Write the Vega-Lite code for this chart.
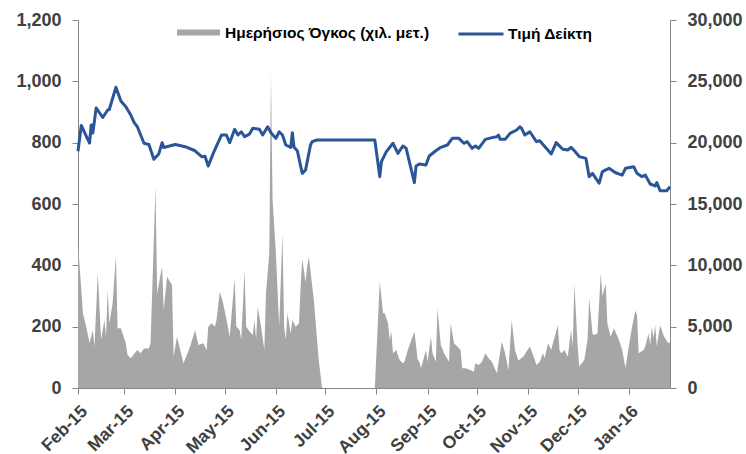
{
  "$schema": "https://vega.github.io/schema/vega-lite/v6.json",
  "width": 592,
  "height": 368,
  "autosize": {"type": "none"},
  "padding": {"left": 78, "top": 20, "right": 76, "bottom": 66},
  "background": "white",
  "config": {
    "view": {"stroke": null},
    "font": "Liberation Sans",
    "axis": {
      "domainColor": "#868686",
      "tickColor": "#868686",
      "labelColor": "#404040",
      "labelFont": "Liberation Sans",
      "labelFontWeight": "bold",
      "labelFontSize": 18,
      "grid": false,
      "title": null,
      "tickSize": 6
    },
    "legend": {
      "labelFont": "Liberation Sans",
      "labelFontWeight": "bold",
      "labelFontSize": 15.5,
      "labelColor": "#000000",
      "labelLimit": 400,
      "padding": 0
    }
  },
  "datasets": {
    "vol": [
      {"date": "2015-02-01T00:00:00", "v": 472},
      {"date": "2015-02-04T00:00:00", "v": 244},
      {"date": "2015-02-06T00:00:00", "v": 200},
      {"date": "2015-02-08T00:00:00", "v": 147},
      {"date": "2015-02-10T00:00:00", "v": 189},
      {"date": "2015-02-11T00:00:00", "v": 135},
      {"date": "2015-02-13T00:00:00", "v": 374},
      {"date": "2015-02-15T00:00:00", "v": 157},
      {"date": "2015-02-17T00:00:00", "v": 222},
      {"date": "2015-02-18T00:00:00", "v": 167},
      {"date": "2015-02-19T00:00:00", "v": 320},
      {"date": "2015-02-20T00:00:00", "v": 211},
      {"date": "2015-02-22T00:00:00", "v": 276},
      {"date": "2015-02-24T00:00:00", "v": 430},
      {"date": "2015-02-25T00:00:00", "v": 195},
      {"date": "2015-02-27T00:00:00", "v": 195},
      {"date": "2015-03-02T00:00:00", "v": 146},
      {"date": "2015-03-03T00:00:00", "v": 108},
      {"date": "2015-03-05T00:00:00", "v": 97},
      {"date": "2015-03-09T00:00:00", "v": 124},
      {"date": "2015-03-11T00:00:00", "v": 113},
      {"date": "2015-03-13T00:00:00", "v": 129},
      {"date": "2015-03-16T00:00:00", "v": 129},
      {"date": "2015-03-17T00:00:00", "v": 146},
      {"date": "2015-03-20T00:00:00", "v": 656},
      {"date": "2015-03-21T00:00:00", "v": 309},
      {"date": "2015-03-24T00:00:00", "v": 396},
      {"date": "2015-03-25T00:00:00", "v": 254},
      {"date": "2015-03-27T00:00:00", "v": 363},
      {"date": "2015-03-30T00:00:00", "v": 336},
      {"date": "2015-03-31T00:00:00", "v": 102},
      {"date": "2015-04-02T00:00:00", "v": 167},
      {"date": "2015-04-04T00:00:00", "v": 124},
      {"date": "2015-04-06T00:00:00", "v": 81},
      {"date": "2015-04-10T00:00:00", "v": 135},
      {"date": "2015-04-13T00:00:00", "v": 189},
      {"date": "2015-04-15T00:00:00", "v": 140},
      {"date": "2015-04-18T00:00:00", "v": 146},
      {"date": "2015-04-20T00:00:00", "v": 124},
      {"date": "2015-04-21T00:00:00", "v": 200},
      {"date": "2015-04-23T00:00:00", "v": 211},
      {"date": "2015-04-25T00:00:00", "v": 200},
      {"date": "2015-04-26T00:00:00", "v": 222},
      {"date": "2015-04-28T00:00:00", "v": 314},
      {"date": "2015-04-30T00:00:00", "v": 276},
      {"date": "2015-05-02T00:00:00", "v": 225},
      {"date": "2015-05-04T00:00:00", "v": 167},
      {"date": "2015-05-07T00:00:00", "v": 358},
      {"date": "2015-05-08T00:00:00", "v": 200},
      {"date": "2015-05-10T00:00:00", "v": 189},
      {"date": "2015-05-11T00:00:00", "v": 157},
      {"date": "2015-05-13T00:00:00", "v": 385},
      {"date": "2015-05-14T00:00:00", "v": 200},
      {"date": "2015-05-16T00:00:00", "v": 184},
      {"date": "2015-05-18T00:00:00", "v": 173},
      {"date": "2015-05-19T00:00:00", "v": 222},
      {"date": "2015-05-20T00:00:00", "v": 157},
      {"date": "2015-05-21T00:00:00", "v": 265},
      {"date": "2015-05-23T00:00:00", "v": 200},
      {"date": "2015-05-25T00:00:00", "v": 124},
      {"date": "2015-05-26T00:00:00", "v": 309},
      {"date": "2015-05-28T00:00:00", "v": 439},
      {"date": "2015-05-29T00:00:00", "v": 1026},
      {"date": "2015-05-30T00:00:00", "v": 613},
      {"date": "2015-06-01T00:00:00", "v": 439},
      {"date": "2015-06-02T00:00:00", "v": 320},
      {"date": "2015-06-03T00:00:00", "v": 200},
      {"date": "2015-06-05T00:00:00", "v": 504},
      {"date": "2015-06-06T00:00:00", "v": 200},
      {"date": "2015-06-07T00:00:00", "v": 157},
      {"date": "2015-06-08T00:00:00", "v": 244},
      {"date": "2015-06-10T00:00:00", "v": 178},
      {"date": "2015-06-11T00:00:00", "v": 222},
      {"date": "2015-06-13T00:00:00", "v": 200},
      {"date": "2015-06-15T00:00:00", "v": 211},
      {"date": "2015-06-16T00:00:00", "v": 330},
      {"date": "2015-06-17T00:00:00", "v": 420},
      {"date": "2015-06-19T00:00:00", "v": 345},
      {"date": "2015-06-20T00:00:00", "v": 396},
      {"date": "2015-06-21T00:00:00", "v": 428},
      {"date": "2015-06-24T00:00:00", "v": 287},
      {"date": "2015-06-27T00:00:00", "v": 91},
      {"date": "2015-06-29T00:00:00", "v": 0},
      {"date": "2015-07-31T00:00:00", "v": 0},
      {"date": "2015-08-03T00:00:00", "v": 347},
      {"date": "2015-08-05T00:00:00", "v": 244},
      {"date": "2015-08-06T00:00:00", "v": 244},
      {"date": "2015-08-08T00:00:00", "v": 211},
      {"date": "2015-08-09T00:00:00", "v": 157},
      {"date": "2015-08-10T00:00:00", "v": 184},
      {"date": "2015-08-11T00:00:00", "v": 113},
      {"date": "2015-08-13T00:00:00", "v": 124},
      {"date": "2015-08-15T00:00:00", "v": 91},
      {"date": "2015-08-17T00:00:00", "v": 81},
      {"date": "2015-08-18T00:00:00", "v": 86},
      {"date": "2015-08-20T00:00:00", "v": 124},
      {"date": "2015-08-24T00:00:00", "v": 184},
      {"date": "2015-08-26T00:00:00", "v": 91},
      {"date": "2015-08-27T00:00:00", "v": 86},
      {"date": "2015-08-28T00:00:00", "v": 64},
      {"date": "2015-08-31T00:00:00", "v": 124},
      {"date": "2015-09-01T00:00:00", "v": 86},
      {"date": "2015-09-03T00:00:00", "v": 167},
      {"date": "2015-09-04T00:00:00", "v": 113},
      {"date": "2015-09-06T00:00:00", "v": 86},
      {"date": "2015-09-07T00:00:00", "v": 260},
      {"date": "2015-09-09T00:00:00", "v": 140},
      {"date": "2015-09-11T00:00:00", "v": 113},
      {"date": "2015-09-14T00:00:00", "v": 86},
      {"date": "2015-09-15T00:00:00", "v": 211},
      {"date": "2015-09-17T00:00:00", "v": 146},
      {"date": "2015-09-19T00:00:00", "v": 135},
      {"date": "2015-09-21T00:00:00", "v": 124},
      {"date": "2015-09-22T00:00:00", "v": 64},
      {"date": "2015-09-24T00:00:00", "v": 64},
      {"date": "2015-09-27T00:00:00", "v": 59},
      {"date": "2015-09-29T00:00:00", "v": 53},
      {"date": "2015-09-30T00:00:00", "v": 81},
      {"date": "2015-10-02T00:00:00", "v": 75},
      {"date": "2015-10-04T00:00:00", "v": 86},
      {"date": "2015-10-06T00:00:00", "v": 113},
      {"date": "2015-10-08T00:00:00", "v": 97},
      {"date": "2015-10-10T00:00:00", "v": 86},
      {"date": "2015-10-13T00:00:00", "v": 48},
      {"date": "2015-10-16T00:00:00", "v": 151},
      {"date": "2015-10-18T00:00:00", "v": 113},
      {"date": "2015-10-20T00:00:00", "v": 59},
      {"date": "2015-10-22T00:00:00", "v": 222},
      {"date": "2015-10-24T00:00:00", "v": 124},
      {"date": "2015-10-26T00:00:00", "v": 90},
      {"date": "2015-10-29T00:00:00", "v": 102},
      {"date": "2015-11-02T00:00:00", "v": 135},
      {"date": "2015-11-04T00:00:00", "v": 108},
      {"date": "2015-11-06T00:00:00", "v": 75},
      {"date": "2015-11-08T00:00:00", "v": 86},
      {"date": "2015-11-10T00:00:00", "v": 113},
      {"date": "2015-11-11T00:00:00", "v": 97},
      {"date": "2015-11-13T00:00:00", "v": 146},
      {"date": "2015-11-15T00:00:00", "v": 124},
      {"date": "2015-11-16T00:00:00", "v": 146},
      {"date": "2015-11-19T00:00:00", "v": 205},
      {"date": "2015-11-20T00:00:00", "v": 124},
      {"date": "2015-11-21T00:00:00", "v": 113},
      {"date": "2015-11-23T00:00:00", "v": 124},
      {"date": "2015-11-25T00:00:00", "v": 102},
      {"date": "2015-11-27T00:00:00", "v": 189},
      {"date": "2015-11-28T00:00:00", "v": 135},
      {"date": "2015-11-29T00:00:00", "v": 341},
      {"date": "2015-12-01T00:00:00", "v": 135},
      {"date": "2015-12-02T00:00:00", "v": 70},
      {"date": "2015-12-05T00:00:00", "v": 91},
      {"date": "2015-12-07T00:00:00", "v": 157},
      {"date": "2015-12-08T00:00:00", "v": 293},
      {"date": "2015-12-10T00:00:00", "v": 178},
      {"date": "2015-12-11T00:00:00", "v": 173},
      {"date": "2015-12-13T00:00:00", "v": 178},
      {"date": "2015-12-15T00:00:00", "v": 374},
      {"date": "2015-12-16T00:00:00", "v": 300},
      {"date": "2015-12-18T00:00:00", "v": 341},
      {"date": "2015-12-19T00:00:00", "v": 211},
      {"date": "2015-12-21T00:00:00", "v": 167},
      {"date": "2015-12-23T00:00:00", "v": 195},
      {"date": "2015-12-26T00:00:00", "v": 157},
      {"date": "2015-12-28T00:00:00", "v": 124},
      {"date": "2015-12-30T00:00:00", "v": 64},
      {"date": "2016-01-01T00:00:00", "v": 135},
      {"date": "2016-01-03T00:00:00", "v": 200},
      {"date": "2016-01-05T00:00:00", "v": 252},
      {"date": "2016-01-06T00:00:00", "v": 238},
      {"date": "2016-01-07T00:00:00", "v": 113},
      {"date": "2016-01-10T00:00:00", "v": 124},
      {"date": "2016-01-11T00:00:00", "v": 135},
      {"date": "2016-01-13T00:00:00", "v": 178},
      {"date": "2016-01-14T00:00:00", "v": 140},
      {"date": "2016-01-15T00:00:00", "v": 200},
      {"date": "2016-01-16T00:00:00", "v": 162},
      {"date": "2016-01-17T00:00:00", "v": 205},
      {"date": "2016-01-18T00:00:00", "v": 135},
      {"date": "2016-01-20T00:00:00", "v": 205},
      {"date": "2016-01-22T00:00:00", "v": 173},
      {"date": "2016-01-23T00:00:00", "v": 162},
      {"date": "2016-01-25T00:00:00", "v": 146},
      {"date": "2016-01-26T00:00:00", "v": 150}
    ],
    "price": [
      {"date": "2015-02-01T00:00:00", "p": 19300},
      {"date": "2015-02-03T00:00:00", "p": 21400},
      {"date": "2015-02-08T00:00:00", "p": 19970},
      {"date": "2015-02-09T00:00:00", "p": 21440},
      {"date": "2015-02-10T00:00:00", "p": 20790},
      {"date": "2015-02-12T00:00:00", "p": 22830},
      {"date": "2015-02-16T00:00:00", "p": 22050},
      {"date": "2015-02-19T00:00:00", "p": 22660},
      {"date": "2015-02-20T00:00:00", "p": 22700},
      {"date": "2015-02-24T00:00:00", "p": 24520},
      {"date": "2015-02-27T00:00:00", "p": 23400},
      {"date": "2015-03-02T00:00:00", "p": 22930},
      {"date": "2015-03-05T00:00:00", "p": 22250},
      {"date": "2015-03-07T00:00:00", "p": 21650},
      {"date": "2015-03-09T00:00:00", "p": 21300},
      {"date": "2015-03-11T00:00:00", "p": 20620},
      {"date": "2015-03-13T00:00:00", "p": 19950},
      {"date": "2015-03-16T00:00:00", "p": 19850},
      {"date": "2015-03-19T00:00:00", "p": 18640},
      {"date": "2015-03-22T00:00:00", "p": 19080},
      {"date": "2015-03-24T00:00:00", "p": 20000},
      {"date": "2015-03-25T00:00:00", "p": 19600},
      {"date": "2015-04-01T00:00:00", "p": 19850},
      {"date": "2015-04-07T00:00:00", "p": 19670},
      {"date": "2015-04-13T00:00:00", "p": 19340},
      {"date": "2015-04-17T00:00:00", "p": 18860},
      {"date": "2015-04-19T00:00:00", "p": 18900},
      {"date": "2015-04-21T00:00:00", "p": 18100},
      {"date": "2015-04-24T00:00:00", "p": 19130},
      {"date": "2015-04-29T00:00:00", "p": 20620},
      {"date": "2015-05-02T00:00:00", "p": 20620},
      {"date": "2015-05-04T00:00:00", "p": 20000},
      {"date": "2015-05-07T00:00:00", "p": 21090},
      {"date": "2015-05-09T00:00:00", "p": 20620},
      {"date": "2015-05-11T00:00:00", "p": 20890},
      {"date": "2015-05-13T00:00:00", "p": 20490},
      {"date": "2015-05-16T00:00:00", "p": 20700},
      {"date": "2015-05-18T00:00:00", "p": 21170},
      {"date": "2015-05-22T00:00:00", "p": 21090},
      {"date": "2015-05-24T00:00:00", "p": 20620},
      {"date": "2015-05-27T00:00:00", "p": 21300},
      {"date": "2015-05-29T00:00:00", "p": 20810},
      {"date": "2015-06-01T00:00:00", "p": 20350},
      {"date": "2015-06-03T00:00:00", "p": 20890},
      {"date": "2015-06-05T00:00:00", "p": 20620},
      {"date": "2015-06-07T00:00:00", "p": 19810},
      {"date": "2015-06-10T00:00:00", "p": 19620},
      {"date": "2015-06-11T00:00:00", "p": 20810},
      {"date": "2015-06-12T00:00:00", "p": 19620},
      {"date": "2015-06-14T00:00:00", "p": 19340},
      {"date": "2015-06-17T00:00:00", "p": 17500},
      {"date": "2015-06-19T00:00:00", "p": 17770},
      {"date": "2015-06-22T00:00:00", "p": 19810},
      {"date": "2015-06-23T00:00:00", "p": 20080},
      {"date": "2015-06-26T00:00:00", "p": 20220},
      {"date": "2015-07-31T00:00:00", "p": 20220},
      {"date": "2015-08-03T00:00:00", "p": 17230},
      {"date": "2015-08-04T00:00:00", "p": 18450},
      {"date": "2015-08-07T00:00:00", "p": 19270},
      {"date": "2015-08-11T00:00:00", "p": 19950},
      {"date": "2015-08-14T00:00:00", "p": 19130},
      {"date": "2015-08-17T00:00:00", "p": 19730},
      {"date": "2015-08-19T00:00:00", "p": 19540},
      {"date": "2015-08-24T00:00:00", "p": 16740},
      {"date": "2015-08-25T00:00:00", "p": 18100},
      {"date": "2015-08-27T00:00:00", "p": 18260},
      {"date": "2015-08-31T00:00:00", "p": 18180},
      {"date": "2015-09-02T00:00:00", "p": 18910},
      {"date": "2015-09-06T00:00:00", "p": 19340},
      {"date": "2015-09-09T00:00:00", "p": 19620},
      {"date": "2015-09-13T00:00:00", "p": 19810},
      {"date": "2015-09-16T00:00:00", "p": 20350},
      {"date": "2015-09-20T00:00:00", "p": 20350},
      {"date": "2015-09-23T00:00:00", "p": 19950},
      {"date": "2015-09-25T00:00:00", "p": 20080},
      {"date": "2015-09-28T00:00:00", "p": 19540},
      {"date": "2015-09-30T00:00:00", "p": 19730},
      {"date": "2015-10-02T00:00:00", "p": 19540},
      {"date": "2015-10-06T00:00:00", "p": 20270},
      {"date": "2015-10-10T00:00:00", "p": 20410},
      {"date": "2015-10-13T00:00:00", "p": 20490},
      {"date": "2015-10-14T00:00:00", "p": 20620},
      {"date": "2015-10-15T00:00:00", "p": 20270},
      {"date": "2015-10-18T00:00:00", "p": 20270},
      {"date": "2015-10-21T00:00:00", "p": 20760},
      {"date": "2015-10-25T00:00:00", "p": 21030},
      {"date": "2015-10-27T00:00:00", "p": 21300},
      {"date": "2015-10-28T00:00:00", "p": 21170},
      {"date": "2015-10-30T00:00:00", "p": 20620},
      {"date": "2015-11-02T00:00:00", "p": 20890},
      {"date": "2015-11-06T00:00:00", "p": 20080},
      {"date": "2015-11-08T00:00:00", "p": 20160},
      {"date": "2015-11-15T00:00:00", "p": 19080},
      {"date": "2015-11-18T00:00:00", "p": 20000},
      {"date": "2015-11-22T00:00:00", "p": 19460},
      {"date": "2015-11-25T00:00:00", "p": 19400},
      {"date": "2015-11-27T00:00:00", "p": 19620},
      {"date": "2015-11-29T00:00:00", "p": 19340},
      {"date": "2015-12-02T00:00:00", "p": 18860},
      {"date": "2015-12-06T00:00:00", "p": 18720},
      {"date": "2015-12-08T00:00:00", "p": 17230},
      {"date": "2015-12-10T00:00:00", "p": 17500},
      {"date": "2015-12-12T00:00:00", "p": 17090},
      {"date": "2015-12-14T00:00:00", "p": 16690},
      {"date": "2015-12-16T00:00:00", "p": 17640},
      {"date": "2015-12-20T00:00:00", "p": 17910},
      {"date": "2015-12-24T00:00:00", "p": 17550},
      {"date": "2015-12-28T00:00:00", "p": 17360},
      {"date": "2015-12-30T00:00:00", "p": 17910},
      {"date": "2016-01-04T00:00:00", "p": 18040},
      {"date": "2016-01-06T00:00:00", "p": 17500},
      {"date": "2016-01-09T00:00:00", "p": 17230},
      {"date": "2016-01-11T00:00:00", "p": 17360},
      {"date": "2016-01-14T00:00:00", "p": 16630},
      {"date": "2016-01-17T00:00:00", "p": 16470},
      {"date": "2016-01-18T00:00:00", "p": 16740},
      {"date": "2016-01-20T00:00:00", "p": 16080},
      {"date": "2016-01-24T00:00:00", "p": 16080},
      {"date": "2016-01-26T00:00:00", "p": 16410}
    ]
  },
  "layer": [
    {
      "data": {"name": "vol"},
      "mark": {"type": "area", "interpolate": "linear", "color": "#a6a6a6"},
      "encoding": {
        "x": {
          "field": "date",
          "type": "temporal",
          "scale": {"domain": [{"year": 2015, "month": 2, "date": 1}, {"year": 2016, "month": 1, "date": 26}]},
          "axis": {
            "format": "%b-%y",
            "tickCount": {"interval": "month", "step": 1},
            "labelAngle": -45,
            "labelAlign": "right",
            "labelBaseline": "top",
            "labelFontSize": 17.5,
            "labelPadding": 8,
            "labelOverlap": false,
            "labelFlush": false
          }
        },
        "y": {
          "field": "v",
          "type": "quantitative",
          "scale": {"domain": [0, 1200], "nice": false},
          "axis": {"values": [0, 200, 400, 600, 800, 1000, 1200], "format": ",.0f", "orient": "left", "labelPadding": 11}
        },
        "fill": {
          "datum": "Ημερήσιος Όγκος (χιλ. μετ.)",
          "scale": {"range": ["#a6a6a6"]},
          "legend": {
            "orient": "none",
            "legendX": 99,
            "legendY": -9,
            "title": null,
            "symbolType": "M-1,-0.14H1V0.14H-1Z",
            "symbolSize": 1849,
            "symbolStrokeWidth": 0,
            "symbolOpacity": 1,
            "labelOffset": 5
          }
        }
      }
    },
    {
      "data": {"name": "price"},
      "mark": {"type": "line", "color": "#2a5597", "strokeWidth": 3, "strokeJoin": "round"},
      "encoding": {
        "x": {"field": "date", "type": "temporal"},
        "y": {
          "field": "p",
          "type": "quantitative",
          "scale": {"domain": [0, 30000], "nice": false},
          "axis": {"values": [0, 5000, 10000, 15000, 20000, 25000, 30000], "format": ",.0f", "orient": "right", "labelPadding": 11}
        },
        "stroke": {
          "datum": "Τιμή Δείκτη",
          "scale": {"range": ["#2a5597"]},
          "legend": {
            "orient": "none",
            "legendX": 379,
            "legendY": -10,
            "title": null,
            "symbolType": "stroke",
            "symbolSize": 2025,
            "symbolStrokeWidth": 3,
            "labelOffset": 3
          }
        }
      }
    }
  ],
  "resolve": {"scale": {"y": "independent", "fill": "independent", "stroke": "independent"}}
}
